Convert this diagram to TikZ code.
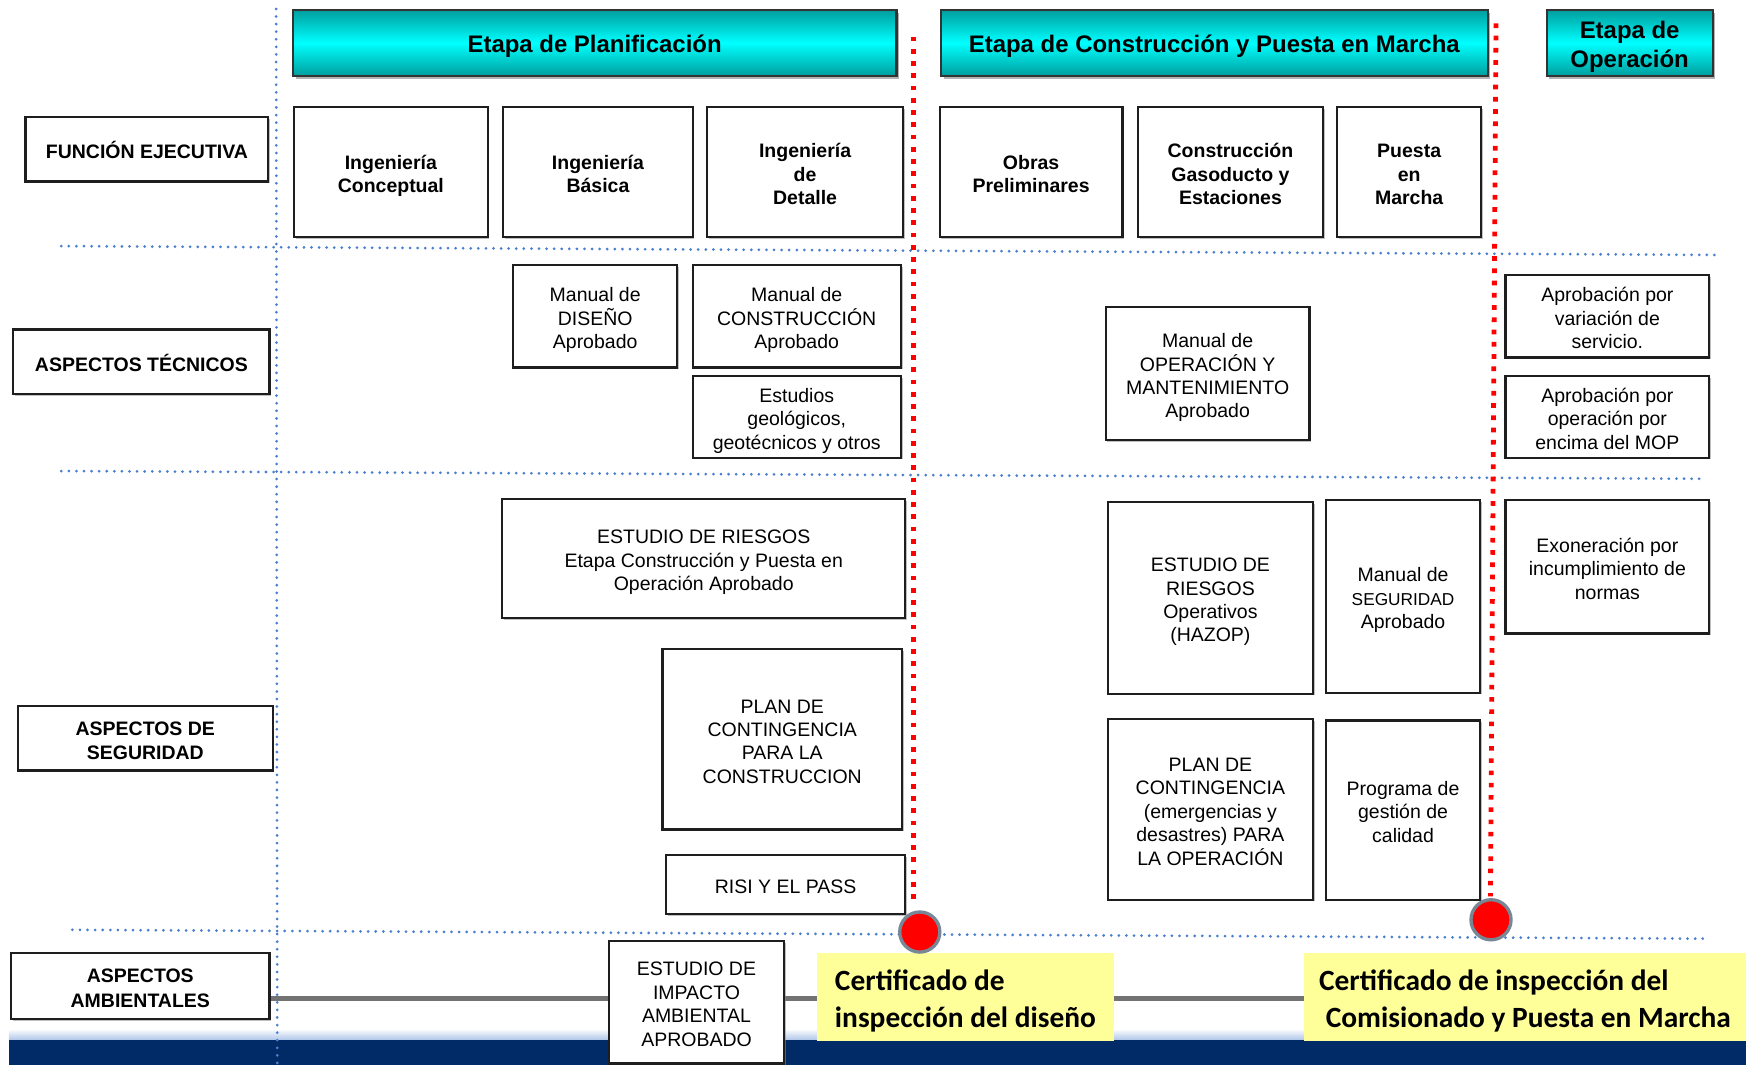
\documentclass[tikz,border=0pt]{standalone}
\usepackage{fontspec}
\setmainfont{Liberation Sans}
\newfontfamily\calib{Carlito}
\usetikzlibrary{shadows}
\definecolor{bdot}{RGB}{74,126,206}
\definecolor{navyband}{RGB}{0,43,102}
\definecolor{yel}{RGB}{255,255,153}
\definecolor{cyanA}{RGB}{0,158,158}
\definecolor{cyanB}{RGB}{0,255,255}
\definecolor{ringgray}{RGB}{120,135,150}
\definecolor{boxline}{RGB}{30,30,30}
\tikzset{
  shad/.style={drop shadow={shadow xshift=1.5pt, shadow yshift=-1.5pt, fill=black!45, opacity=0.55}},
  base/.style={draw=boxline, line width=2pt, fill=white, inner sep=0pt},
  hdr/.style={base, draw=black!80, top color=cyanA, bottom color=cyanA, middle color=cyanB,
    font=\bfseries\fontsize{21.5}{26}\selectfont,
    drop shadow={shadow xshift=2.5pt, shadow yshift=-2.5pt, fill=black!50, opacity=0.6}},
  lbl/.style={base, shad, font=\bfseries\fontsize{17.5}{22}\selectfont},
  bbox/.style={base, shad, font=\bfseries\fontsize{17.5}{21.5}\selectfont},
  rbox/.style={base, shad, font=\fontsize{17.5}{21}\selectfont},
  ybox/.style={fill=yel, draw=none, inner sep=0pt, font=\calib\bfseries\fontsize{26.4}{33}\selectfont},
  bluedot/.style={draw=bdot, line width=2.7pt, line cap=round, dash pattern=on 0.01pt off 6.8pt},
  reddot/.style={draw=red, line width=4.3pt, dash pattern=on 4.2pt off 6.8pt},
  mark circle/.style={circle, fill=red, draw=ringgray, line width=3pt, minimum size=36pt, inner sep=0pt},
}
\newcommand{\tsh}{3.75pt}
% name, x1, y1, x2, y2, style, column spec, text
\newcommand{\mkbox}[8]{%
  \pgfmathsetmacro\mkw{#4-#2}%
  \pgfmathsetmacro\mkh{#5-#3}%
  \node[#6, minimum width=\mkw pt, minimum height=\mkh pt] (#1) at ({(#2+#4)/2},{(#3+#5)/2})
    {\raisebox{-\tsh}[\height][\depth]{\begin{tabular}{@{}#7@{}}#8\end{tabular}}};%
}
\begin{document}
\begin{tikzpicture}[x=1pt, y=-1pt]
\useasboundingbox (0,0) rectangle (1568,956);
% bottom band
\shade[top color=white, bottom color=bdot!45] (8,924) rectangle (1568,934);
\fill[navyband] (8,934) rectangle (1568,956);
% gray line
\coordinate (g1) at (242,897);
\coordinate (g2) at (1171,897);
\draw[black!55, line width=4.5pt] (g1) -- (g2);
% horizontal blue dotted lines
\coordinate (ha1) at (55,221);  \coordinate (ha2) at (1545,229);
\coordinate (hb1) at (55,423);  \coordinate (hb2) at (1532,430);
\coordinate (hc1) at (65,835);  \coordinate (hc2) at (1532,843);
\draw[bluedot] (ha1) -- (ha2);
\draw[bluedot] (hb1) -- (hb2);
\draw[bluedot] (hc1) -- (hc2);
% vertical blue dotted line
\coordinate (va1) at (248,8); \coordinate (va2) at (249,956);
\draw[bluedot] (va1) -- (va2);
% headers
\mkbox{h1}{263}{9}{805}{68}{hdr}{c}{Etapa de Planificación}
\mkbox{h2}{845}{9}{1336}{68}{hdr}{c}{Etapa de Construcción y Puesta en Marcha}
\mkbox{h3}{1389}{9}{1538}{68}{hdr}{c}{Etapa de\\Operación}
% left labels
\mkbox{l1}{23}{105}{241}{163}{lbl}{c}{FUNCIÓN EJECUTIVA}
\mkbox{l2}{12}{296}{242}{354}{lbl}{c}{ASPECTOS TÉCNICOS}
\mkbox{l3}{16}{634}{245}{692}{lbl}{c}{ASPECTOS DE\\SEGURIDAD}
\mkbox{l4}{10}{856}{242}{915}{lbl}{c}{ASPECTOS\\AMBIENTALES}
% executive function row
\mkbox{e1}{264}{96}{438}{213}{bbox}{c}{Ingeniería\\Conceptual}
\mkbox{e2}{452}{96}{622}{213}{bbox}{c}{Ingeniería\\Básica}
\mkbox{e3}{635}{96}{811}{213}{bbox}{c}{Ingeniería\\de\\Detalle}
\mkbox{e4}{844}{96}{1008}{213}{bbox}{c}{Obras\\Preliminares}
\mkbox{e5}{1022}{96}{1188}{213}{bbox}{c}{Construcción\\Gasoducto y\\Estaciones}
\mkbox{e6}{1201}{96}{1330}{213}{bbox}{c}{Puesta\\en\\Marcha}
% technical row
\mkbox{t1}{461}{238}{608}{330}{rbox}{c}{Manual de\\DISEÑO\\Aprobado}
\mkbox{t2}{622}{238}{809}{330}{rbox}{c}{Manual de\\CONSTRUCCIÓN\\Aprobado}
\mkbox{t3}{622}{338}{809}{411}{rbox}{c}{Estudios\\geológicos,\\geotécnicos y otros}
\mkbox{t4}{993}{276}{1176}{395}{rbox}{c}{Manual de\\OPERACIÓN Y\\MANTENIMIENTO\\Aprobado}
\mkbox{t5}{1352}{247}{1535}{321}{rbox}{c}{Aprobación por\\variación de\\servicio.}
\mkbox{t6}{1352}{338}{1535}{411}{rbox}{c}{Aprobación por\\operación por\\encima del MOP}
% safety row
\mkbox{s1}{451}{448}{813}{555}{rbox}{c}{ESTUDIO DE RIESGOS\\Etapa Construcción y Puesta en\\Operación Aprobado}
\mkbox{s2}{595}{583}{810}{745}{rbox}{c}{PLAN DE\\CONTINGENCIA\\PARA LA\\CONSTRUCCION}
\mkbox{s3}{598}{768}{813}{821}{rbox}{c}{RISI Y EL PASS}
\mkbox{s4}{995}{451}{1179}{623}{rbox}{c}{ESTUDIO DE\\RIESGOS\\Operativos\\(HAZOP)}
\mkbox{s5}{1191}{449}{1329}{622}{rbox}{c}{Manual de\\{\fontsize{15.5}{21}\selectfont SEGURIDAD}\\Aprobado}
\mkbox{s6}{995}{646}{1179}{808}{rbox}{c}{PLAN DE\\CONTINGENCIA\\(emergencias y\\desastres) PARA\\LA OPERACIÓN}
\mkbox{s7}{1191}{647}{1329}{808}{rbox}{c}{Programa de\\gestión de\\calidad}
\mkbox{s8}{1352}{449}{1535}{569}{rbox}{c}{Exoneración por\\incumplimiento de\\normas}
% environmental row
\mkbox{a1}{547}{845}{704}{955}{rbox}{c}{ESTUDIO DE\\IMPACTO\\AMBIENTAL\\APROBADO}
\mkbox{y1}{734}{856}{1000}{935}{ybox}{l}{Certificado de\\inspección del diseño}
\mkbox{y2}{1171}{856}{1568}{935}{ybox}{l}{Certificado de inspección del\\\hspace{6pt}Comisionado y Puesta en Marcha}
% red milestone lines
\coordinate (ra1) at (820.5,33); \coordinate (ra2) at (820.5,812);
\coordinate (rb1) at (1343.5,21); \coordinate (rb2) at (1338.5,805);
\draw[reddot] (ra1) -- (ra2);
\draw[reddot] (rb1) -- (rb2);
\node[mark circle] (c1) at (826,837) {};
\node[mark circle] (c2) at (1339,826) {};
\end{tikzpicture}
\end{document}
